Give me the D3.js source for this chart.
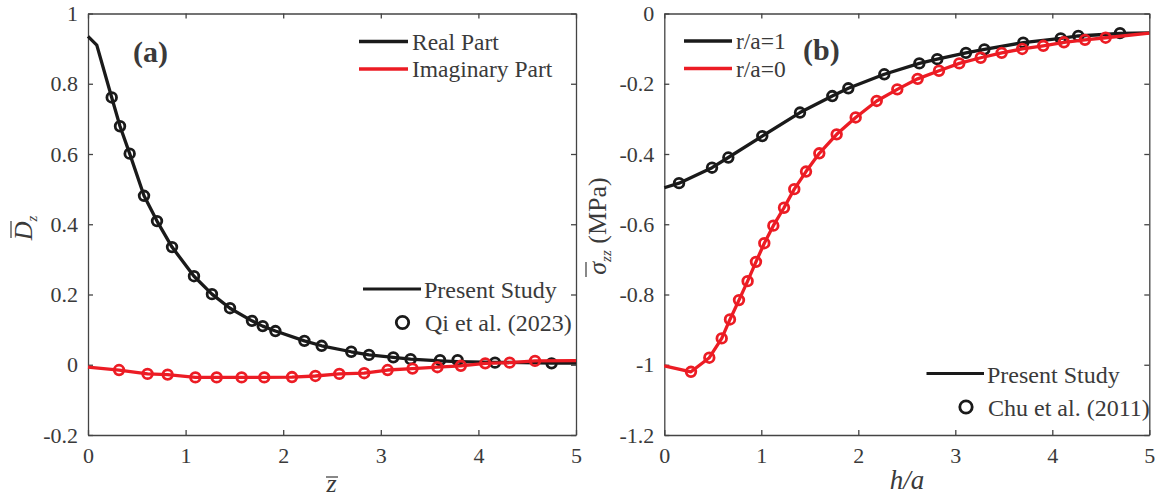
<!DOCTYPE html>
<html>
<head>
<meta charset="utf-8">
<script src="https://cdn.jsdelivr.net/npm/d3@7"></script>
<style>
  body { margin: 0; background: #fff; }
  svg text { font-family: 'Liberation Serif'; fill: #3a3a3a; }
</style>
</head>
<body>
<svg id="chart" width="1156" height="500"></svg>
<script>
// ---- panel (a) : Dz vs z ----
var a_real_line_x = [0, 0.09, 0.243, 0.328, 0.427, 0.574, 0.707, 0.861, 1.086, 1.27, 1.455, 1.68, 1.79, 1.92, 2.217, 2.394, 2.697, 2.879, 3.128, 3.305, 3.607, 3.787, 4.17, 4.75, 5];
var a_real_line_y = [0.935, 0.91, 0.761, 0.679, 0.601, 0.481, 0.409, 0.335, 0.252, 0.201, 0.161, 0.125, 0.110, 0.096, 0.068, 0.054, 0.037, 0.028, 0.021, 0.016, 0.011, 0.009, 0.007, 0.005, 0.005];
var a_real_pts_x = [0.243, 0.328, 0.427, 0.574, 0.707, 0.861, 1.086, 1.27, 1.455, 1.68, 1.79, 1.92, 2.217, 2.394, 2.697, 2.879, 3.128, 3.305, 3.607, 3.787, 4.17, 4.75];
var a_real_pts_y = [0.761, 0.679, 0.601, 0.481, 0.409, 0.335, 0.252, 0.201, 0.161, 0.125, 0.110, 0.096, 0.068, 0.054, 0.037, 0.028, 0.021, 0.016, 0.013, 0.013, 0.006, 0.004];
var a_imag_line_x = [0, 0.318, 0.61, 0.816, 1.1, 1.318, 1.574, 1.806, 2.09, 2.33, 2.575, 2.83, 3.07, 3.325, 3.58, 3.82, 4.07, 4.32, 4.58, 5];
var a_imag_line_y = [-0.007, -0.015, -0.026, -0.028, -0.036, -0.036, -0.036, -0.036, -0.035, -0.032, -0.026, -0.024, -0.015, -0.011, -0.007, -0.003, 0.004, 0.006, 0.011, 0.012];
var a_imag_pts_x = [0.318, 0.61, 0.816, 1.1, 1.318, 1.574, 1.806, 2.09, 2.33, 2.575, 2.83, 3.07, 3.325, 3.58, 3.82, 4.07, 4.32, 4.58];
var a_imag_pts_y = [-0.015, -0.026, -0.028, -0.036, -0.036, -0.036, -0.036, -0.035, -0.032, -0.026, -0.024, -0.015, -0.011, -0.007, -0.003, 0.004, 0.006, 0.011];
var a_xticks = [0, 1, 2, 3, 4, 5];
var a_yticks = [-0.2, 0, 0.2, 0.4, 0.6, 0.8, 1];
var a_series_names = ['Real Part', 'Imaginary Part'];
var a_ref_names = ['Present Study', 'Qi et al. (2023)'];

// ---- panel (b) : sigma_zz vs h/a ----
var b_r1_line_x = [0, 0.152, 0.492, 0.66, 1.01, 1.399, 1.732, 1.897, 2.268, 2.629, 2.814, 3.11, 3.30, 3.70, 4.087, 4.268, 4.698, 5];
var b_r1_line_y = [-0.496, -0.483, -0.439, -0.41, -0.349, -0.282, -0.235, -0.213, -0.173, -0.142, -0.130, -0.112, -0.102, -0.083, -0.071, -0.064, -0.057, -0.055];
var b_r1_pts_x = [0.152, 0.492, 0.66, 1.01, 1.399, 1.732, 1.897, 2.268, 2.629, 2.814, 3.11, 3.30, 3.70, 4.087, 4.268, 4.698];
var b_r1_pts_y = [-0.483, -0.439, -0.41, -0.349, -0.282, -0.235, -0.213, -0.173, -0.142, -0.130, -0.112, -0.102, -0.083, -0.071, -0.064, -0.056];
var b_r0_line_x = [0, 0.275, 0.464, 0.592, 0.677, 0.77, 0.859, 0.945, 1.031, 1.124, 1.234, 1.34, 1.461, 1.598, 1.777, 1.973, 2.19, 2.402, 2.612, 2.832, 3.041, 3.262, 3.478, 3.69, 3.907, 4.12, 4.337, 4.55, 5];
var b_r0_line_y = [-1.003, -1.02, -0.98, -0.925, -0.871, -0.816, -0.762, -0.707, -0.654, -0.604, -0.553, -0.50, -0.45, -0.398, -0.344, -0.296, -0.249, -0.216, -0.186, -0.163, -0.142, -0.126, -0.112, -0.101, -0.092, -0.082, -0.075, -0.069, -0.056];
var b_r0_pts_x = [0.275, 0.464, 0.592, 0.677, 0.77, 0.859, 0.945, 1.031, 1.124, 1.234, 1.34, 1.461, 1.598, 1.777, 1.973, 2.19, 2.402, 2.612, 2.832, 3.041, 3.262, 3.478, 3.69, 3.907, 4.12, 4.337, 4.55];
var b_r0_pts_y = [-1.02, -0.98, -0.925, -0.871, -0.816, -0.762, -0.707, -0.654, -0.604, -0.553, -0.50, -0.45, -0.398, -0.344, -0.296, -0.249, -0.216, -0.186, -0.163, -0.142, -0.126, -0.112, -0.101, -0.092, -0.082, -0.075, -0.069];
var b_xticks = [0, 1, 2, 3, 4, 5];
var b_yticks = [-1.2, -1, -0.8, -0.6, -0.4, -0.2, 0];
var b_series_names = ['r/a=1', 'r/a=0'];
var b_ref_names = ['Present Study', 'Chu et al. (2011)'];

var BLACK = '#1a1a1a';
var RED = '#ec1c24';
var AXIS = '#444444';
var TXT = '#4a4a4a';
var SERIF = 'Liberation Serif';

var svg = d3.select('#chart');

function zip(xs, ys) {
	return xs.map(function(x, i) { return [x, ys[i]]; });
}

function draw_panel(p) {
	var g = svg.append('g');
	var x = d3.scaleLinear().domain(p.xdom).range([p.left, p.right]);
	var y = d3.scaleLinear().domain(p.ydom).range([p.bottom, p.top]);

	var fmt = function(d) { return String(+d.toFixed(1)); };

	// axes (MATLAB style box with inner ticks)
	var ax_b = d3.axisBottom(x).tickValues(p.xticks).tickSizeInner(-5).tickSizeOuter(0).tickPadding(12).tickFormat(fmt);
	var ax_t = d3.axisTop(x).tickValues(p.xticks).tickSizeInner(-5).tickSizeOuter(0).tickFormat('');
	var ax_l = d3.axisLeft(y).tickValues(p.yticks).tickSizeInner(-5).tickSizeOuter(0).tickPadding(10).tickFormat(fmt);
	var ax_r = d3.axisRight(y).tickValues(p.yticks).tickSizeInner(-5).tickSizeOuter(0).tickFormat('');

	var axes = [
		[ax_b, 'translate(0,' + p.bottom + ')'],
		[ax_t, 'translate(0,' + p.top + ')'],
		[ax_l, 'translate(' + p.left + ',0)'],
		[ax_r, 'translate(' + p.right + ',0)']
	];
	axes.forEach(function(a) {
		var ga = g.append('g').attr('transform', a[1]).call(a[0])
			.attr('font-family', SERIF).attr('font-size', 22);
		ga.selectAll('path, line').attr('stroke', AXIS).attr('stroke-width', 1.3);
		ga.selectAll('text').attr('fill', TXT);
	});

	var line = d3.line().x(function(d) { return x(d[0]); }).y(function(d) { return y(d[1]); });

	p.series.forEach(function(s) {
		g.append('path')
			.datum(zip(s.lx, s.ly))
			.attr('d', line)
			.attr('fill', 'none')
			.attr('stroke', s.color)
			.attr('stroke-width', 3.3)
			.attr('stroke-linejoin', 'round');
		g.selectAll(null)
			.data(zip(s.px, s.py)).enter()
			.append('circle')
			.attr('cx', function(d) { return x(d[0]); })
			.attr('cy', function(d) { return y(d[1]); })
			.attr('r', 4.8)
			.attr('fill', 'none')
			.attr('stroke', s.color)
			.attr('stroke-width', 2.8);
	});

	// series legend
	p.series.forEach(function(s, i) {
		var ly = p.leg1.y + i * 27.5;
		g.append('line')
			.attr('x1', p.leg1.x).attr('x2', p.leg1.x + p.leg1.w)
			.attr('y1', ly).attr('y2', ly)
			.attr('stroke', s.color).attr('stroke-width', 3.5);
		g.append('text')
			.attr('x', p.leg1.x + p.leg1.w + 4).attr('y', ly + 8)
			.attr('font-family', SERIF).attr('font-size', 23.5)
			.attr('fill', '#2a2a2a')
			.text(s.name);
	});

	// reference legend
	var r = p.leg2;
	g.append('line')
		.attr('x1', r.x).attr('x2', r.x + r.w)
		.attr('y1', r.y).attr('y2', r.y)
		.attr('stroke', BLACK).attr('stroke-width', 3.2);
	g.append('text')
		.attr('x', r.x + r.w + 3).attr('y', r.y + 9)
		.attr('font-family', SERIF).attr('font-size', 24)
		.attr('fill', '#2a2a2a')
		.text(p.refs[0]);
	g.append('circle')
		.attr('cx', r.cx).attr('cy', r.y + 33.5)
		.attr('r', 6.2).attr('fill', 'none')
		.attr('stroke', BLACK).attr('stroke-width', 2.8);
	g.append('text')
		.attr('x', r.x + r.w + 4).attr('y', r.y + 42)
		.attr('font-family', SERIF).attr('font-size', 24)
		.attr('fill', '#2a2a2a')
		.text(p.refs[1]);

	// panel tag
	g.append('text')
		.attr('x', p.tag.x).attr('y', p.tag.y)
		.attr('font-family', SERIF).attr('font-size', 30).attr('font-weight', 'bold')
		.attr('fill', '#1a1a1a')
		.text(p.tag.t);

	return g;
}

draw_panel({
	left: 88, right: 576, top: 13.5, bottom: 435,
	xdom: [0, 5], ydom: [-0.2, 1],
	xticks: a_xticks, yticks: a_yticks,
	series: [
		{name: a_series_names[0], color: BLACK, lx: a_real_line_x, ly: a_real_line_y, px: a_real_pts_x, py: a_real_pts_y},
		{name: a_series_names[1], color: RED, lx: a_imag_line_x, ly: a_imag_line_y, px: a_imag_pts_x, py: a_imag_pts_y}
	],
	leg1: {x: 359, y: 41.5, w: 49},
	leg2: {x: 363, y: 289, w: 58, cx: 402.5},
	refs: a_ref_names,
	tag: {x: 133, y: 62, t: '(a)'}
});

draw_panel({
	left: 664.3, right: 1149.3, top: 13.5, bottom: 435,
	xdom: [0, 5], ydom: [-1.2, 0],
	xticks: b_xticks, yticks: b_yticks,
	series: [
		{name: b_series_names[0], color: BLACK, lx: b_r1_line_x, ly: b_r1_line_y, px: b_r1_pts_x, py: b_r1_pts_y},
		{name: b_series_names[1], color: RED, lx: b_r0_line_x, ly: b_r0_line_y, px: b_r0_pts_x, py: b_r0_pts_y}
	],
	leg1: {x: 684, y: 41, w: 48},
	leg2: {x: 926.5, y: 373.5, w: 57.5, cx: 966},
	refs: b_ref_names,
	tag: {x: 803, y: 60, t: '(b)'}
});

// axis titles (math italic)
var ital = 'Liberation Serif';
var LAB = '#3a3a3a';

// z-bar
svg.append('text').attr('x', 331.5).attr('y', 492)
	.attr('text-anchor', 'middle')
	.attr('font-size', 26).attr('font-style', 'italic').attr('font-family', ital)
	.attr('fill', LAB).text('z');
svg.append('line').attr('x1', 326).attr('x2', 338).attr('y1', 477).attr('y2', 477)
	.attr('stroke', LAB).attr('stroke-width', 1.2);

// h/a
svg.append('text').attr('x', 907).attr('y', 489)
	.attr('text-anchor', 'middle')
	.attr('font-size', 27).attr('font-style', 'italic').attr('font-family', ital)
	.attr('fill', LAB).text('h/a');

// D-bar_z
var dl = svg.append('text')
	.attr('transform', 'translate(32,228) rotate(-90)')
	.attr('text-anchor', 'middle')
	.attr('font-size', 26).attr('font-style', 'italic').attr('font-family', ital)
	.attr('fill', LAB);
dl.append('tspan').text('D');
dl.append('tspan').attr('dy', 5).attr('font-size', 15).text('z');
svg.append('line').attr('x1', 11).attr('x2', 11).attr('y1', 221).attr('y2', 238)
	.attr('stroke', LAB).attr('stroke-width', 1.2);

// sigma-bar_zz (MPa)
var sl = svg.append('text')
	.attr('transform', 'translate(606,226) rotate(-90)')
	.attr('text-anchor', 'middle')
	.attr('font-size', 26).attr('font-family', SERIF)
	.attr('fill', LAB);
sl.append('tspan').attr('font-style', 'italic').text('σ');
sl.append('tspan').attr('dy', 5).attr('font-size', 15).attr('font-style', 'italic').text('zz');
sl.append('tspan').attr('dy', -5).text(' (MPa)');
svg.append('line').attr('x1', 586).attr('x2', 586).attr('y1', 262).attr('y2', 277)
	.attr('stroke', LAB).attr('stroke-width', 1.2);
</script>
</body>
</html>
